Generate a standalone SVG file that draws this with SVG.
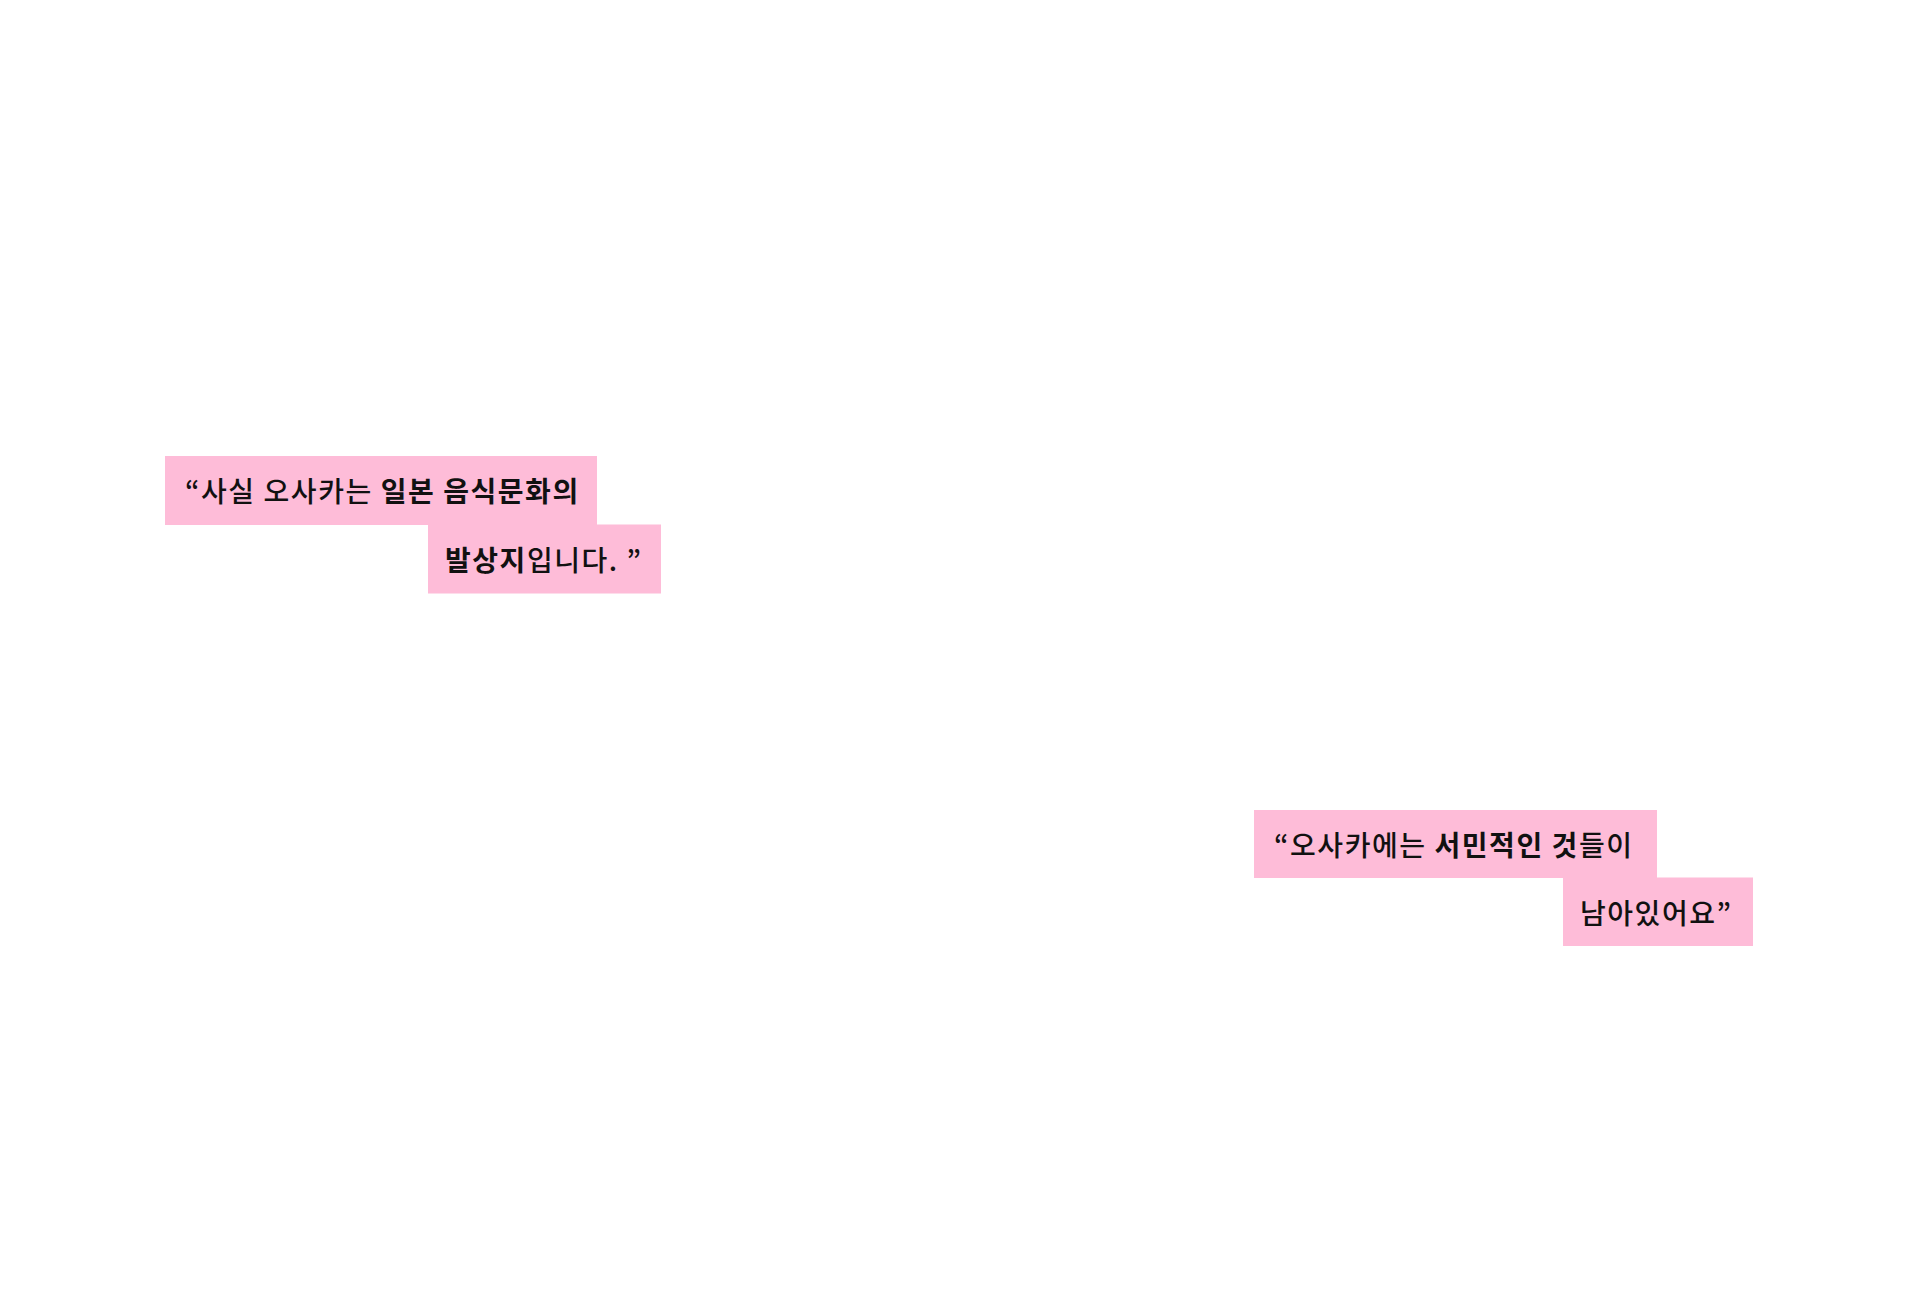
<svg xmlns="http://www.w3.org/2000/svg" width="1920" height="1293" viewBox="0 0 1920 1293">
<style>
.hl{fill:#FEBCD8}
.t{font-family:"Noto Sans CJK KR","Noto Sans",sans-serif;font-size:28px;font-weight:500;letter-spacing:1.55px;fill:#111111}
.b{font-weight:700}
</style>
<rect width="1920" height="1293" fill="#FFFFFF"/>
<g id="quote1">
<rect class="hl" x="165" y="456" width="432" height="69"/>
<rect class="hl" x="428" y="524.5" width="233" height="69"/>
<text class="t" x="185" y="502">“사실 오사카는 <tspan class="b">일본 음식문화의</tspan></text>
<text class="t" x="445" y="571"><tspan class="b">발상지</tspan>입니다. ”</text>
</g>
<g id="quote2">
<rect class="hl" x="1254" y="810" width="403" height="68"/>
<rect class="hl" x="1563" y="877.5" width="190" height="68.5"/>
<text class="t" x="1274" y="856">“오사카에는 <tspan class="b">서민적인 것</tspan>들이</text>
<text class="t" x="1580" y="924">남아있어요”</text>
</g>
<g id="connectors"/>
</svg>
